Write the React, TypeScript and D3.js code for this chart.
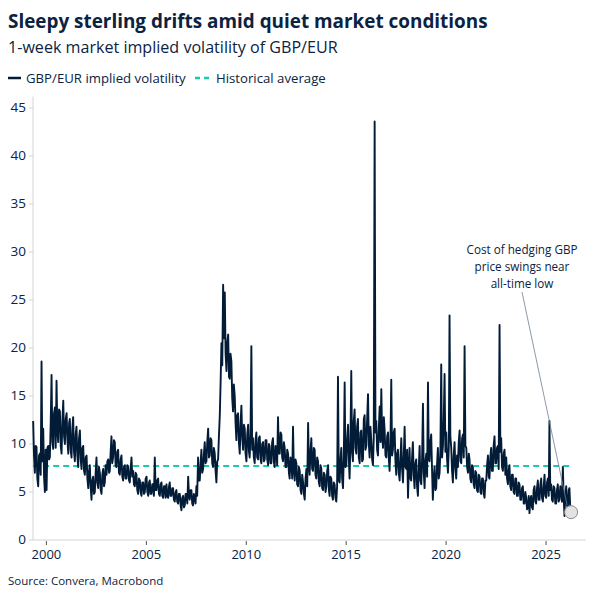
import React from "react";
import * as d3 from "d3";

// 1-week GBP/EUR implied volatility (%), two readings per month (early, mid-month), from May 1999
const firstMonth = new Date(1999, 4, 1);

const vol1999to2003 = [
  12.4, 8.8, 7.0, 9.8, 9.7, 6.4, 5.6, 8.8, 9.0, 6.8, 18.6, 8.2, 11.6, 6.6, 5.0, 9.4,
  5.2, 9.6, 9.8, 8.4, 8.6, 12.0, 17.2, 10.2, 9.5, 13.2, 13.8, 9.6, 16.6, 11.4, 10.2, 13.6, 13.4, 9.8, 9.0, 12.4, 14.5, 10.8, 10.0, 12.6,
  13.2, 10.4, 9.0, 12.2, 12.6, 9.4, 8.6, 11.6, 12.8, 9.2, 8.2, 11.0, 11.8, 8.8, 7.6, 10.6, 11.4, 8.4, 7.4, 9.6, 9.8, 7.2, 6.8, 8.6,
  8.8, 6.4, 5.4, 7.2, 7.8, 5.6, 4.2, 6.2, 6.6, 4.8, 5.0, 7.0, 8.6, 6.0, 5.4, 7.6, 7.0, 5.2, 4.8, 6.8, 7.4, 5.6, 6.0, 7.8,
  6.8, 8.2, 8.4, 7.0, 7.2, 9.0, 10.8, 8.0, 8.6, 10.4, 10.2, 7.8, 7.6, 9.2, 9.4, 7.0, 6.8, 8.4, 8.8, 6.6, 6.2, 7.6, 7.8, 6.4,
];

const vol2004to2008 = [
  6.4, 7.8, 7.6, 6.2, 6.0, 7.4, 8.6, 6.6, 7.2, 5.8, 5.6, 7.0, 6.8, 5.2, 4.8, 6.4, 6.2, 5.0, 4.6, 6.0, 6.0, 4.8, 5.0, 6.4,
  6.6, 5.0, 4.6, 6.0, 6.2, 4.8, 4.8, 5.8, 5.8, 4.6, 8.6, 5.2, 5.2, 6.2, 6.4, 4.8, 4.6, 5.8, 6.0, 4.6, 4.4, 5.6, 5.6, 4.4,
  5.8, 4.6, 4.4, 5.6, 6.0, 4.6, 4.6, 5.4, 5.4, 4.2, 4.0, 5.0, 5.2, 4.0, 3.8, 4.8, 4.8, 3.6, 3.1, 4.4, 4.6, 3.4, 3.6, 4.8,
  4.8, 3.8, 6.6, 4.6, 4.2, 5.2, 5.2, 3.8, 3.6, 4.8, 4.4, 3.8, 5.6, 4.6, 8.6, 6.2, 6.2, 8.0, 9.4, 7.0, 7.4, 9.0, 10.2, 8.0,
  8.2, 10.2, 11.6, 8.6, 8.8, 10.6, 10.4, 8.0, 7.6, 9.6, 9.0, 7.2, 6.0, 8.2, 8.4, 10.8, 13.0, 16.4, 20.5, 18.2, 26.6, 21.0, 25.8, 19.4,
];

const vol2009to2013 = [
  17.6, 20.6, 21.4, 17.0, 16.8, 19.4, 18.6, 14.8, 13.4, 16.2, 15.0, 12.2, 10.4, 13.0, 13.2, 10.2, 9.0, 12.2, 14.0, 10.6, 9.4, 12.0, 11.6, 9.0,
  8.2, 11.0, 12.0, 9.2, 8.6, 10.8, 20.2, 9.4, 10.6, 8.6, 8.0, 10.4, 11.2, 8.6, 8.4, 10.6, 10.8, 8.4, 8.0, 10.0, 10.2, 8.2, 8.4, 10.4,
  10.4, 8.4, 7.8, 10.0, 9.8, 8.0, 8.0, 10.2, 10.6, 8.2, 7.6, 9.8, 9.6, 7.8, 12.8, 9.0, 9.0, 11.2, 11.0, 8.6, 8.2, 10.2, 9.6, 7.6,
  7.6, 9.4, 9.0, 7.0, 6.4, 8.6, 8.2, 6.4, 11.8, 7.4, 6.2, 8.4, 8.0, 5.8, 5.6, 7.6, 7.2, 5.2, 4.8, 6.8, 6.0, 4.8, 4.2, 6.4,
  7.4, 5.6, 12.2, 7.8, 6.8, 9.2, 10.6, 7.4, 7.2, 9.6, 9.4, 6.8, 6.4, 8.6, 8.2, 6.0, 5.6, 7.8, 7.4, 5.4, 5.2, 7.0, 6.8, 5.0,
];

const vol2014to2018 = [
  5.6, 7.2, 7.8, 5.2, 4.6, 6.6, 6.4, 4.6, 4.2, 6.0, 5.8, 4.4, 4.0, 5.6, 17.0, 6.2, 6.0, 8.4, 9.6, 6.4, 5.4, 8.8, 16.4, 7.6,
  7.8, 10.6, 12.0, 8.4, 6.4, 9.8, 17.6, 9.2, 8.2, 12.4, 13.6, 9.6, 9.0, 11.8, 12.6, 8.6, 8.0, 11.2, 11.4, 8.2, 8.4, 12.6, 13.0, 9.4,
  9.8, 12.6, 15.2, 10.0, 8.6, 11.8, 10.4, 8.4, 7.8, 10.6, 43.6, 11.2, 12.4, 9.4, 8.8, 11.6, 13.9, 10.2, 15.7, 10.8, 9.6, 12.8, 11.4, 8.8,
  8.6, 10.8, 11.2, 8.4, 7.2, 9.6, 16.7, 8.8, 9.4, 11.2, 11.6, 8.2, 6.8, 9.0, 9.4, 7.0, 6.2, 8.6, 10.6, 7.4, 6.0, 8.8, 11.8, 7.6,
  7.4, 9.4, 4.4, 7.6, 9.6, 6.4, 6.2, 8.6, 10.2, 6.8, 5.4, 8.0, 8.4, 5.6, 4.6, 7.4, 9.8, 6.2, 5.8, 8.4, 14.2, 7.0, 5.4, 8.2,
];

const vol2019to2023 = [
  9.0, 6.6, 16.4, 8.4, 8.2, 10.2, 11.0, 7.4, 4.2, 6.4, 7.6, 5.2, 5.4, 7.8, 9.6, 6.4, 7.0, 9.4, 18.3, 8.6, 9.8, 12.4, 17.3, 9.2,
  11.2, 8.4, 7.0, 9.6, 23.4, 10.8, 9.6, 7.2, 6.0, 8.8, 10.2, 7.4, 6.4, 8.8, 7.6, 10.2, 11.4, 8.2, 8.0, 10.6, 11.0, 8.6, 20.2, 9.8,
  9.6, 7.6, 7.0, 9.0, 8.4, 6.4, 6.0, 7.8, 7.6, 5.8, 5.4, 7.2, 7.0, 5.2, 5.0, 6.8, 6.6, 5.0, 4.8, 6.4, 6.4, 4.8, 4.4, 6.2,
  6.2, 7.8, 8.8, 6.6, 6.4, 8.6, 9.6, 7.2, 7.2, 9.8, 10.8, 8.0, 8.0, 9.6, 9.8, 7.4, 22.4, 9.2, 10.6, 7.6, 7.2, 9.0, 9.4, 6.8,
  8.6, 6.4, 5.8, 7.4, 7.8, 5.6, 5.2, 6.8, 6.8, 5.0, 4.8, 6.4, 6.4, 4.6, 4.6, 6.0, 5.8, 4.2, 4.2, 5.4, 5.6, 3.8, 3.8, 5.0,
];

const vol2024to2026 = [
  4.4, 3.2, 3.4, 4.6, 2.8, 4.2, 4.6, 3.4, 3.2, 5.2, 5.6, 4.0, 3.8, 5.4, 6.2, 4.2, 4.2, 5.8, 6.4, 4.4, 4.0, 5.6, 6.8, 4.6,
  4.4, 6.0, 6.4, 4.6, 12.4, 5.2, 5.8, 4.2, 4.0, 5.6, 5.4, 3.8, 3.8, 5.2, 5.8, 4.0, 4.2, 5.6, 5.2, 4.0, 7.6, 4.4, 2.5, 4.6,
  5.6, 3.6, 3.4, 5.2, 5.4, 3.4, 2.9,
];

const historicalAverage = 7.7;

const yTickValues = [0, 5, 10, 15, 20, 25, 30, 35, 40, 45];
const xTickYears = [2000, 2005, 2010, 2015, 2020, 2025];

const annotationLines = ["Cost of hedging GBP", "price swings near", "all-time low"];

const navy = "#0b2341";
const lineColor = "#021c38";
const teal = "#1cc8ae";
const axisGrey = "#d4d4d4";
const font = "'Open Sans', 'Noto Sans', sans-serif";

type Point = { date: Date; value: number };

export default function App() {
  const volatility = [
    ...vol1999to2003,
    ...vol2004to2008,
    ...vol2009to2013,
    ...vol2014to2018,
    ...vol2019to2023,
    ...vol2024to2026,
  ];
  // early-month reading on the 4th, mid-month reading on the 19th
  const series: Point[] = volatility.map((v, i) => ({
    date: d3.timeDay.offset(d3.timeMonth.offset(firstMonth, Math.floor(i / 2)), i % 2 ? 18 : 3),
    value: v,
  }));

  const x = d3
    .scaleTime()
    .domain([new Date(1999, 4, 1), new Date(2027, 0, 1)])
    .range([33, 586]);
  const y = d3.scaleLinear().domain([0, 46.2]).range([540, 96.5]);

  const line = d3
    .line<Point>()
    .x((d) => x(d.date))
    .y((d) => y(d.value));

  const first = series[0];
  const last = series[series.length - 1];
  const cx = x(last.date);
  const cy = y(last.value);

  return (
    <svg
      width={600}
      height={600}
      style={{ position: "absolute", left: 0, top: 0, background: "#fff" }}
      fontFamily={font}
    >
      <text x={8} y={28} fontSize={18.9} fontWeight={700} fill={navy}>
        Sleepy sterling drifts amid quiet market conditions
      </text>
      <text x={8} y={53} fontSize={16.1} fill={navy}>
        1-week market implied volatility of GBP/EUR
      </text>

      {/* legend */}
      <line x1={8} x2={21} y1={78} y2={78} stroke={lineColor} strokeWidth={2.5} />
      <text x={26} y={82.5} fontSize={13.2} fill={navy}>
        GBP/EUR implied volatility
      </text>
      <line
        x1={195}
        x2={211}
        y1={78}
        y2={78}
        stroke={teal}
        strokeWidth={2.5}
        strokeDasharray="5,4"
      />
      <text x={216} y={82.5} fontSize={13.2} fill={navy}>
        Historical average
      </text>

      {/* y axis */}
      <line x1={33} x2={33} y1={y.range()[1]} y2={540} stroke={axisGrey} />
      {yTickValues.map((t) => (
        <g key={t}>
          <line x1={29} x2={33} y1={y(t)} y2={y(t)} stroke={axisGrey} />
          <text
            x={26}
            y={y(t)}
            fontSize={13.5}
            fill={navy}
            textAnchor="end"
            dominantBaseline="middle"
          >
            {t}
          </text>
        </g>
      ))}

      {/* x axis */}
      <line x1={33} x2={586} y1={540} y2={540} stroke={axisGrey} />
      {xTickYears.map((yr) => {
        const tx = x(new Date(yr, 0, 1));
        return (
          <g key={yr}>
            <line x1={tx} x2={tx} y1={541} y2={545} stroke="#555" />
            <text x={tx} y={559} fontSize={13} fill={navy} textAnchor="middle">
              {yr}
            </text>
          </g>
        );
      })}

      {/* historical average */}
      <line
        x1={x(first.date)}
        x2={cx}
        y1={y(historicalAverage)}
        y2={y(historicalAverage)}
        stroke={teal}
        strokeWidth={2}
        strokeDasharray="6,4"
      />

      <path
        d={line(series) ?? ""}
        fill="none"
        stroke={lineColor}
        strokeWidth={1.9}
        strokeLinejoin="round"
      />

      {/* annotation */}
      {annotationLines.map((l, i) => (
        <text
          key={l}
          x={522}
          y={254 + i * 17}
          fontSize={11.7}
          fill={navy}
          textAnchor="middle"
        >
          {l}
        </text>
      ))}
      <line x1={522} y1={292} x2={cx - 4} y2={cy - 7} stroke="#6f7f90" strokeWidth={0.8} />
      <circle cx={cx} cy={cy} r={6.5} fill="#e2e2e2" stroke="#8c8c8c" strokeWidth={1} />

      <text x={8} y={585} fontSize={11.5} fill={navy}>
        Source: Convera, Macrobond
      </text>
    </svg>
  );
}
